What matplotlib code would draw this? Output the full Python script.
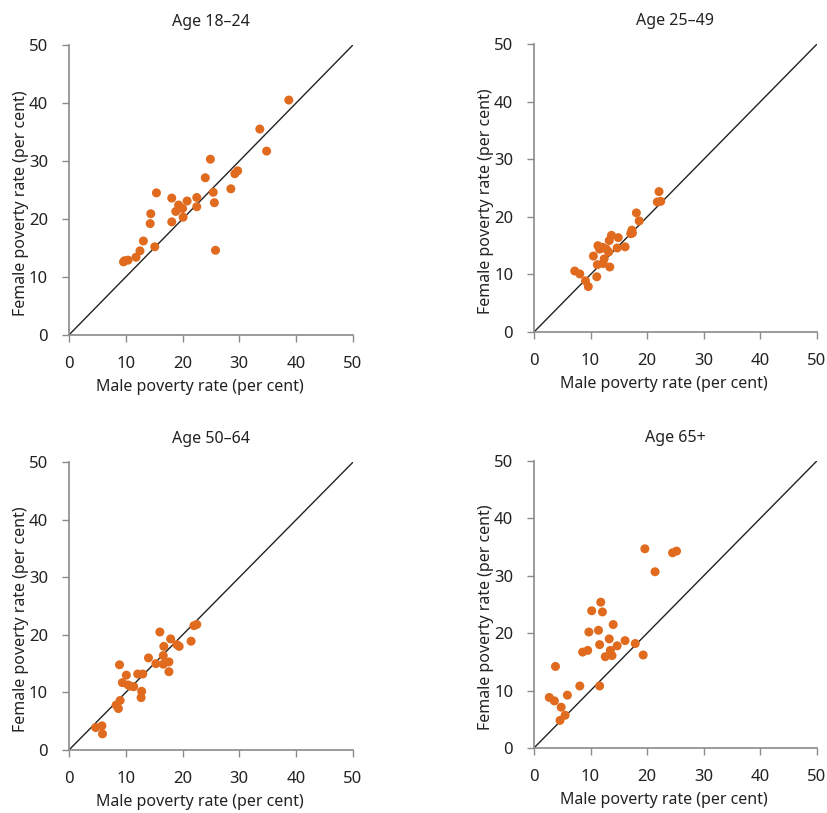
import matplotlib
matplotlib.use("Agg")
import matplotlib.pyplot as plt

plt.rcParams['font.family'] = ['Noto Sans', 'DejaVu Sans']

titles = ["Age 18\u201324", "Age 25\u201349", "Age 50\u201364", "Age 65+"]

male_18_24 = [38.7, 33.6, 34.8, 24.9, 24.0, 29.7, 29.2, 28.5, 25.4, 25.6,
              15.4, 18.1, 22.5, 20.8, 19.3, 20.0, 18.8, 22.5, 20.1, 18.1,
              14.4, 14.3, 13.1, 15.1, 12.5, 11.8, 10.4, 9.6, 9.8, 25.8]
female_18_24 = [40.5, 35.5, 31.7, 30.3, 27.1, 28.3, 27.8, 25.2, 24.6, 22.8,
                24.5, 23.6, 23.7, 23.1, 22.4, 21.8, 21.3, 22.1, 20.3, 19.5,
                20.9, 19.2, 16.2, 15.2, 14.5, 13.4, 12.9, 12.6, 12.8, 14.6]

male_25_49 = [22.1, 21.8, 22.4, 18.1, 18.6, 17.3, 17.4, 17.1, 13.7, 13.3,
              14.9, 16.1, 14.7, 11.3, 12.2, 12.8, 13.2, 11.6, 10.5, 12.4,
              12.2, 11.2, 13.4, 7.2, 8.1, 11.1, 9.1, 9.6]
female_25_49 = [24.4, 22.6, 22.7, 20.7, 19.3, 17.7, 17.2, 17.1, 16.8, 15.9,
                16.4, 14.8, 14.6, 15.0, 14.7, 14.4, 13.9, 14.4, 13.2, 12.7,
                11.9, 11.7, 11.3, 10.6, 10.1, 9.6, 8.9, 7.9]

male_50_64 = [22.5, 22.0, 16.0, 17.9, 21.5, 19.0, 19.4, 16.7, 16.6, 14.0,
              8.9, 15.3, 16.6, 17.6, 17.6, 12.1, 13.0, 10.1, 9.4, 10.4,
              11.4, 10.8, 12.8, 12.7, 9.0, 8.3, 8.7, 4.7, 5.8, 5.9]
female_50_64 = [21.8, 21.6, 20.5, 19.3, 18.9, 18.3, 18.0, 18.0, 16.4, 16.0,
                14.8, 15.0, 14.9, 15.3, 13.6, 13.2, 13.2, 13.0, 11.7, 11.3,
                11.0, 11.1, 10.2, 9.1, 8.6, 7.8, 7.2, 3.9, 4.2, 2.8]

male_65 = [19.6, 24.5, 25.2, 21.4, 11.8, 10.2, 12.1, 14.0, 9.7, 11.4,
           13.3, 11.6, 16.1, 17.9, 14.7, 8.6, 9.5, 13.5, 13.8, 12.6,
           19.3, 3.8, 8.1, 11.6, 2.7, 3.6, 5.9, 4.8, 5.5, 4.6]
female_65 = [34.7, 34.0, 34.3, 30.7, 25.4, 23.9, 23.7, 21.5, 20.2, 20.5,
             19.0, 18.0, 18.7, 18.2, 17.8, 16.7, 17.0, 17.0, 16.1, 15.9,
             16.2, 14.2, 10.8, 10.8, 8.8, 8.2, 9.2, 7.1, 5.7, 4.8]

series = [(male_18_24, female_18_24), (male_25_49, female_25_49),
          (male_50_64, female_50_64), (male_65, female_65)]

ticks = [0, 10, 20, 30, 40, 50]

# axes boxes in figure fractions (left, bottom, width, height)
boxes = [[0.0834, 0.588, 0.3434, 0.3567],
         [0.6457, 0.5916, 0.342, 0.354],
         [0.0834, 0.0775, 0.3434, 0.354],
         [0.6457, 0.080, 0.342, 0.353]]

fig = plt.figure(figsize=(8.27, 8.13), dpi=100)

for i, (title, (xs, ys)) in enumerate(zip(titles, series)):
    ax = fig.add_axes(boxes[i])
    ax.plot([0, 50], [0, 50], color="#222222", linewidth=1.0, zorder=1)
    ax.scatter(xs, ys, s=42, color="#E06B1F", edgecolors="none", zorder=2, clip_on=False)
    ax.set_xlim(0, 50)
    ax.set_ylim(0, 50)
    ax.set_xticks(ticks)
    ax.set_yticks(ticks)
    for side in ["top", "right"]:
        ax.spines[side].set_visible(False)
    for side in ["left", "bottom"]:
        ax.spines[side].set_color("#8a8a8a")
        ax.spines[side].set_linewidth(1.2)
    ax.tick_params(direction="out", length=5, width=1.0, color="#8a8a8a",
                   labelsize=12, labelcolor="#222222", pad=10)
    ax.set_title(title, fontsize=11.5, color="#222222", pad=14)
    ax.set_xlabel("Male poverty rate (per cent)", fontsize=11.5, color="#222222", labelpad=5)
    ax.set_ylabel("Female poverty rate (per cent)", fontsize=11.5, color="#222222", labelpad=0)
    # labels in the reference sit a little off-centre
    ax.xaxis.label.set_x(0.46)
    ax.yaxis.label.set_y(0.455)

fig.savefig("out.png", dpi=100)
